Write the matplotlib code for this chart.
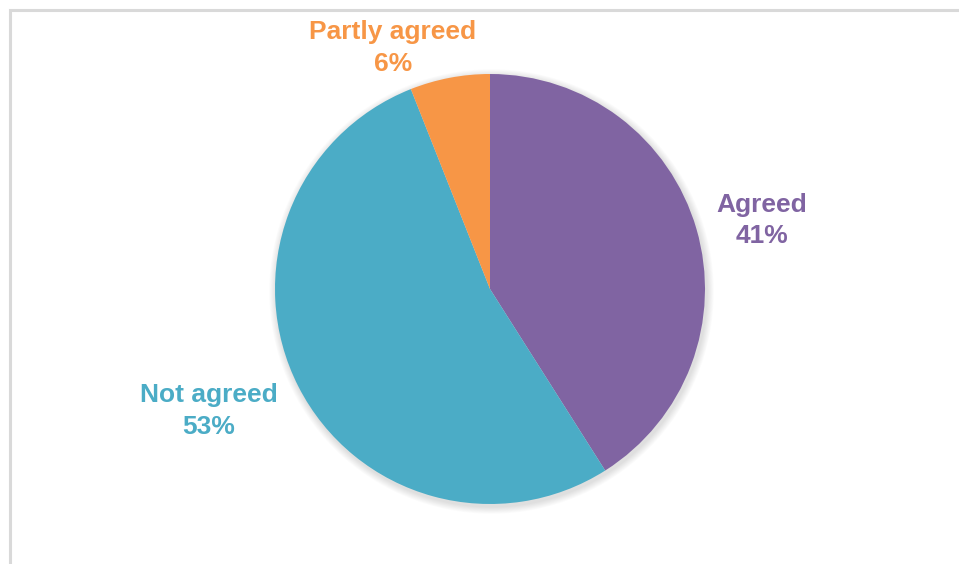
import matplotlib
matplotlib.use("Agg")
import matplotlib.pyplot as plt
from matplotlib.patches import Circle, Rectangle

categories = ["Agreed", "Not agreed", "Partly agreed"]
values = [41, 53, 6]
colors = ["#8064A2", "#4BACC6", "#F79646"]

W, H = 959, 564
fig = plt.figure(figsize=(W / 100, H / 100), dpi=100)
ax = fig.add_axes([0, 0, 1, 1])
ax.set_xlim(0, W)
ax.set_ylim(0, H)
ax.set_aspect("equal")
ax.axis("off")

# chart border (light grey, extends off canvas right/bottom)
ax.add_patch(Rectangle((9.5, -20), W + 30, H - 10 + 20, fill=False,
                       edgecolor="#D9D9D9", linewidth=2.2, zorder=0))

cx, cy, r = 490, H - 289, 215

# soft shadow
for i in range(8):
    ax.add_patch(Circle((cx + 1.5, cy - 2.5), r + 1 + i * 0.9,
                        facecolor="black", edgecolor="none",
                        alpha=0.014, zorder=1))

ax.pie(values, colors=colors, startangle=90, counterclock=False,
       center=(cx, cy), radius=r, frame=True,
       wedgeprops=dict(linewidth=0, zorder=2))
ax.set_xlim(0, W)
ax.set_ylim(0, H)
ax.axis("off")

label_pos = {
    "Agreed": (762, H - 220.5),
    "Not agreed": (209, H - 411),
    "Partly agreed": (393, H - 48),
}
for cat, val, col in zip(categories, values, colors):
    x, y = label_pos[cat]
    ax.text(x, y, f"{cat}\n{val}%", color=col, ha="center", va="center",
            fontsize=19, fontweight="bold", family="Liberation Sans",
            linespacing=1.4, zorder=5)

fig.savefig("out.png", dpi=100)
